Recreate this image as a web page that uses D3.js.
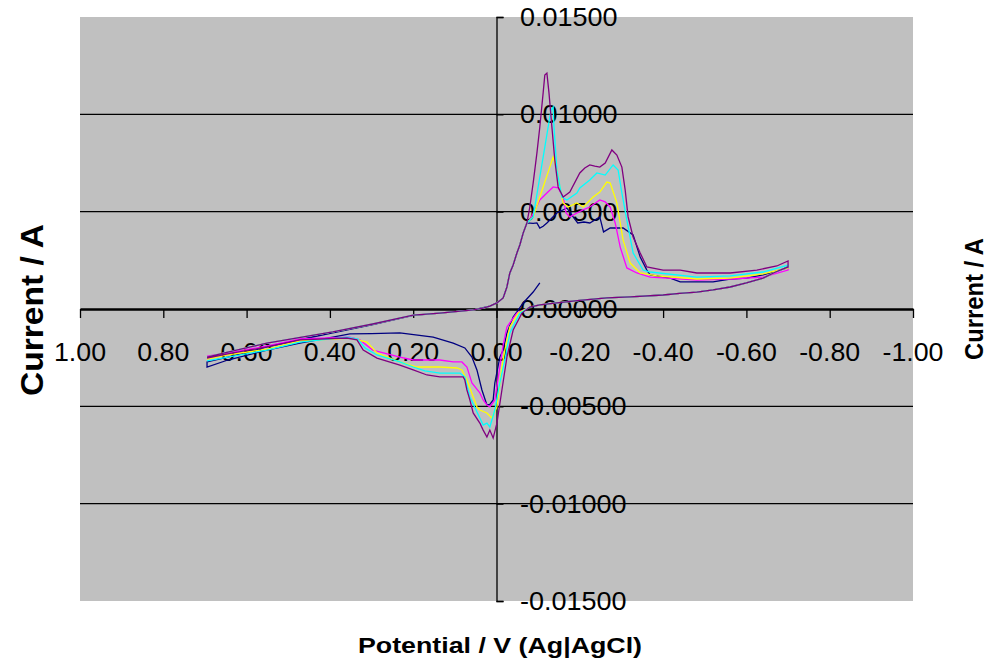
<!DOCTYPE html>
<html>
<head>
<meta charset="utf-8">
<script src="https://cdn.jsdelivr.net/npm/d3@7"></script>
<style>
  html, body { margin: 0; padding: 0; background: #ffffff; }
  svg { display: block; }
  text { font-family: "Liberation Sans", Arial, sans-serif; fill: #000; }
</style>
</head>
<body>
<svg id="chart" width="994" height="666"></svg>
<script>
// ---------- DATA ----------
const potentialTicks = [1.0, 0.8, 0.6, 0.4, 0.2, 0.0, -0.2, -0.4, -0.6, -0.8, -1.0];
const currentTicks = [0.015, 0.01, 0.005, 0, -0.005, -0.01, -0.015];
const gridCurrents = [0.01, 0.005, -0.005, -0.01];

const seriesNames = ["Scan 1", "Scan 2", "Scan 3", "Scan 4", "Scan 5"];

// shared segments [potential V, current A]
const linearBranch = [
  [0.695,-0.00247],[0.645,-0.00221],[0.551,-0.00175],[0.453,-0.00139],[0.393,-0.00118],
  [0.297,-0.00077],[0.200,-0.00031],[0.136,-0.00021],[0.056,-0.00005],[0.032,0.00005],
  [0.016,0.00015],[-0.001,0.00031],[-0.016,0.00057]
];
const riseBranch = [
  [-0.025,0.00113],[-0.032,0.00185],[-0.040,0.00226],[-0.049,0.00288],[-0.056,0.00329],
  [-0.064,0.00390],[-0.073,0.00442]
];
const returnBranch = [
  [-0.700,0.00216],[-0.670,0.00190],[-0.640,0.00159],[-0.600,0.00134],[-0.561,0.00113],
  [-0.520,0.00098],[-0.481,0.00087],[-0.440,0.00080],[-0.400,0.00072],[-0.321,0.00062],
  [-0.265,0.00057],[-0.200,0.00044],[-0.145,0.00031],[-0.104,0.00021],[-0.080,0.00010]
];

// Scan 1 (navy)
const navyStart = [
  [-0.104,0.00134],[-0.088,0.00087],[-0.064,0.00031],[-0.049,-0.00015],[-0.040,-0.00041],
  [-0.025,-0.00123],[-0.016,-0.00211],[-0.008,-0.00247],[0.004,-0.00380],[0.008,-0.00467],
  [0.016,-0.00490],[0.023,-0.00493],[0.035,-0.00416],[0.047,-0.00313],[0.059,-0.00247],
  [0.076,-0.00200],[0.104,-0.00175],[0.152,-0.00144],[0.232,-0.00123],[0.300,-0.00126],
  [0.352,-0.00128],[0.393,-0.00144],[0.472,-0.00175],[0.551,-0.00211],[0.645,-0.00262],
  [0.695,-0.00298]
];
const navyLinear = [
  [0.695,-0.00272],[0.645,-0.00247],[0.551,-0.00195],[0.453,-0.00149],[0.393,-0.00123],
  [0.297,-0.00080],[0.200,-0.00033],[0.136,-0.00021],[0.056,-0.00005],[0.016,0.00015],
  [-0.001,0.00031],[-0.016,0.00057]
];
const navyAnodic = [
  [-0.088,0.00440],[-0.097,0.00442],[-0.104,0.00416],[-0.112,0.00425],[-0.121,0.00442],
  [-0.145,0.00493],[-0.169,0.00519],[-0.184,0.00473],[-0.195,0.00442],[-0.210,0.00447],
  [-0.224,0.00442],[-0.248,0.00473],[-0.257,0.00396],[-0.273,0.00416],[-0.304,0.00416],
  [-0.328,0.00380],[-0.345,0.00267],[-0.361,0.00200],[-0.369,0.00175],[-0.417,0.00159],
  [-0.441,0.00139],[-0.520,0.00139],[-0.561,0.00154],[-0.601,0.00159],[-0.640,0.00175],
  [-0.698,0.00211]
];

// Scan 2 (magenta)
const magentaAnodic = [
  [-0.080,0.00457],[-0.104,0.00560],[-0.121,0.00596],[-0.136,0.00627],[-0.148,0.00622],
  [-0.160,0.00575],[-0.167,0.00493],[-0.176,0.00473],[-0.193,0.00493],[-0.208,0.00509],
  [-0.224,0.00524],[-0.248,0.00560],[-0.261,0.00550],[-0.273,0.00524],[-0.285,0.00442],
  [-0.297,0.00318],[-0.313,0.00211],[-0.337,0.00185],[-0.369,0.00164],[-0.420,0.00157],
  [-0.481,0.00149],[-0.561,0.00154],[-0.640,0.00164],[-0.700,0.00200]
];
const magentaCathodic = [
  [-0.049,-0.00021],[-0.025,-0.00092],[-0.016,-0.00185],[-0.008,-0.00298],[0.004,-0.00467],
  [0.016,-0.00503],[0.023,-0.00493],[0.032,-0.00467],[0.040,-0.00431],[0.059,-0.00380],
  [0.071,-0.00298],[0.083,-0.00272],[0.104,-0.00272],[0.136,-0.00262],[0.200,-0.00262],
  [0.232,-0.00247],[0.297,-0.00211],[0.328,-0.00159],[0.352,-0.00144],[0.472,-0.00154],
  [0.551,-0.00190],[0.645,-0.00226],[0.695,-0.00242]
];

// Scan 3 (yellow)
const yellowAnodic = [
  [-0.088,0.00473],[-0.112,0.00627],[-0.128,0.00729],[-0.136,0.00781],[-0.145,0.00714],
  [-0.152,0.00627],[-0.160,0.00545],[-0.172,0.00524],[-0.193,0.00545],[-0.208,0.00524],
  [-0.232,0.00575],[-0.248,0.00601],[-0.265,0.00652],[-0.273,0.00647],[-0.289,0.00545],
  [-0.304,0.00354],[-0.321,0.00236],[-0.345,0.00185],[-0.385,0.00170],[-0.481,0.00154],
  [-0.561,0.00159],[-0.640,0.00180],[-0.700,0.00211]
];
const yellowCathodic = [
  [-0.052,-0.00021],[-0.032,-0.00092],[-0.020,-0.00211],[-0.013,-0.00298],[-0.001,-0.00503],
  [0.011,-0.00560],[0.023,-0.00534],[0.040,-0.00519],[0.047,-0.00503],[0.071,-0.00365],
  [0.083,-0.00313],[0.095,-0.00303],[0.136,-0.00298],[0.191,-0.00298],[0.232,-0.00272],
  [0.287,-0.00226],[0.311,-0.00170],[0.352,-0.00149],[0.472,-0.00164],[0.551,-0.00206],
  [0.645,-0.00236],[0.695,-0.00257]
];

// Scan 4 (cyan)
const cyanAnodic = [
  [-0.088,0.00473],[-0.104,0.00678],[-0.116,0.00832],[-0.124,0.00935],[-0.131,0.01022],
  [-0.136,0.01038],[-0.138,0.00935],[-0.145,0.00714],[-0.157,0.00575],[-0.169,0.00560],
  [-0.193,0.00596],[-0.200,0.00622],[-0.224,0.00663],[-0.241,0.00699],[-0.261,0.00688],
  [-0.280,0.00740],[-0.292,0.00714],[-0.301,0.00596],[-0.313,0.00457],[-0.328,0.00288],
  [-0.352,0.00200],[-0.369,0.00190],[-0.481,0.00164],[-0.561,0.00170],[-0.640,0.00190],
  [-0.700,0.00226]
];
const cyanCathodic = [
  [-0.056,-0.00021],[-0.032,-0.00123],[-0.020,-0.00262],[-0.008,-0.00380],[0.004,-0.00519],
  [0.016,-0.00606],[0.023,-0.00586],[0.032,-0.00596],[0.040,-0.00560],[0.064,-0.00452],
  [0.076,-0.00349],[0.088,-0.00329],[0.136,-0.00329],[0.172,-0.00318],[0.200,-0.00298],
  [0.232,-0.00272],[0.287,-0.00236],[0.316,-0.00200],[0.333,-0.00154],[0.359,-0.00144],
  [0.472,-0.00170],[0.551,-0.00211],[0.645,-0.00247],[0.695,-0.00267]
];

// Scan 5 (purple)
const purpleAnodic = [
  [-0.080,0.00524],[-0.088,0.00647],[-0.097,0.00801],[-0.104,0.00935],[-0.112,0.01110],
  [-0.116,0.01202],[-0.121,0.01212],[-0.126,0.01110],[-0.133,0.00935],[-0.140,0.00765],
  [-0.148,0.00627],[-0.160,0.00575],[-0.176,0.00601],[-0.200,0.00699],[-0.212,0.00724],
  [-0.224,0.00740],[-0.236,0.00734],[-0.248,0.00729],[-0.261,0.00750],[-0.277,0.00817],
  [-0.289,0.00791],[-0.301,0.00729],[-0.309,0.00611],[-0.316,0.00473],[-0.328,0.00370],
  [-0.345,0.00288],[-0.361,0.00216],[-0.400,0.00200],[-0.441,0.00200],[-0.481,0.00185],
  [-0.561,0.00185],[-0.625,0.00200],[-0.673,0.00221],[-0.700,0.00247]
];
const purpleCathodic = [
  [-0.061,-0.00021],[-0.040,-0.00108],[-0.025,-0.00247],[-0.013,-0.00416],[-0.001,-0.00586],
  [0.008,-0.00663],[0.016,-0.00622],[0.023,-0.00658],[0.032,-0.00622],[0.040,-0.00586],
  [0.056,-0.00534],[0.064,-0.00467],[0.071,-0.00416],[0.076,-0.00365],[0.080,-0.00349],
  [0.136,-0.00349],[0.167,-0.00339],[0.200,-0.00313],[0.232,-0.00288],[0.287,-0.00252],
  [0.320,-0.00211],[0.335,-0.00159],[0.359,-0.00149],[0.472,-0.00159],[0.551,-0.00195],
  [0.645,-0.00231],[0.695,-0.00252]
];

// ---------- BUILD SERIES ----------
const seriesData = [
  navyStart.concat(navyLinear, riseBranch, navyAnodic, returnBranch),
  linearBranch.concat(riseBranch, magentaAnodic, returnBranch, magentaCathodic),
  linearBranch.concat(riseBranch, yellowAnodic, returnBranch, yellowCathodic),
  linearBranch.concat(riseBranch, cyanAnodic, returnBranch, cyanCathodic),
  linearBranch.concat(riseBranch, purpleAnodic, returnBranch, purpleCathodic)
];
const seriesColors = ["#000080", "#FF00FF", "#FFFF00", "#00FFFF", "#800080"];

// ---------- DRAW ----------
const svg = d3.select("#chart");
const plot = { left: 80, right: 913, top: 17, bottom: 601 };

const x = d3.scaleLinear().domain([1, -1]).range([plot.left, plot.right]);
const y = d3.scaleLinear().domain([-0.015, 0.015]).range([plot.bottom, plot.top]);

function stretch(sel, factor) {
  sel.each(function () {
    const w = this.getComputedTextLength();
    this.setAttribute("textLength", (w * factor).toFixed(1));
    this.setAttribute("lengthAdjust", "spacingAndGlyphs");
  });
}

svg.append("rect").attr("x", 0).attr("y", 0).attr("width", 994).attr("height", 666).attr("fill", "#ffffff");
svg.append("rect")
  .attr("x", plot.left).attr("y", plot.top)
  .attr("width", plot.right - plot.left).attr("height", plot.bottom - plot.top)
  .attr("fill", "#C0C0C0");

// gridlines
svg.append("g").selectAll("line").data(gridCurrents).join("line")
  .attr("x1", plot.left).attr("x2", plot.right)
  .attr("y1", d => y(d)).attr("y2", d => y(d))
  .attr("stroke", "#000").attr("stroke-width", 1.3);

// y axis (at potential 0), ticks to the right
const yAxis = d3.axisRight(y).tickValues(currentTicks).tickSize(7).tickFormat("");
const yAxisG = svg.append("g").attr("transform", `translate(${x(0)},0)`).call(yAxis);
yAxisG.select(".domain").attr("stroke", "#000").attr("stroke-width", 1.3);
yAxisG.selectAll(".tick line").attr("stroke", "#000").attr("stroke-width", 1.3);

// x axis at current 0, ticks downward
const xAxis = d3.axisBottom(x).tickValues(potentialTicks).tickSize(9).tickSizeOuter(0).tickFormat("");
const xAxisG = svg.append("g").attr("transform", `translate(0,${y(0)})`).call(xAxis);
xAxisG.select(".domain").attr("stroke", "#000").attr("stroke-width", 2.6);
xAxisG.selectAll(".tick line").attr("stroke", "#000").attr("stroke-width", 1.3);

// tick labels (plain hyphen minus, as in the original)
const fmtY = d => d3.format(".5f")(d).replace("\u2212", "-");
const fmtX = d => d3.format(".2f")(d).replace("\u2212", "-");
const yLabels = svg.append("g").selectAll("text").data(currentTicks).join("text")
  .attr("x", 520).attr("y", d => y(d) + 9)
  .attr("font-size", 25).attr("text-anchor", "start")
  .text(d => fmtY(d));
stretch(yLabels, 1.08);

const xLabels = svg.append("g").selectAll("text").data(potentialTicks).join("text")
  .attr("x", d => x(d)).attr("y", 361)
  .attr("font-size", 25).attr("text-anchor", "middle")
  .text(d => fmtX(d));
stretch(xLabels, 1.07);

// series
const line = d3.line().x(d => x(d[0])).y(d => y(d[1]));
svg.append("g").selectAll("path").data(seriesData).join("path")
  .attr("d", d => line(d))
  .attr("fill", "none")
  .attr("stroke", (d, i) => seriesColors[i])
  .attr("stroke-width", 1.3)
  .attr("stroke-linejoin", "miter");

// axis titles
svg.append("text")
  .attr("x", 500).attr("y", 653)
  .attr("font-size", 22).attr("font-weight", "bold").attr("text-anchor", "middle")
  .attr("textLength", 284).attr("lengthAdjust", "spacingAndGlyphs")
  .text("Potential / V (Ag|AgCl)");

svg.append("text")
  .attr("transform", "translate(43,310) rotate(-90)")
  .attr("font-size", 32).attr("font-weight", "bold").attr("text-anchor", "middle")
  .attr("textLength", 172).attr("lengthAdjust", "spacingAndGlyphs")
  .text("Current / A");

svg.append("text")
  .attr("transform", "translate(983,299) rotate(-90)")
  .attr("font-size", 26).attr("font-weight", "bold").attr("text-anchor", "middle")
  .attr("textLength", 122).attr("lengthAdjust", "spacingAndGlyphs")
  .text("Current / A");
</script>
</body>
</html>
